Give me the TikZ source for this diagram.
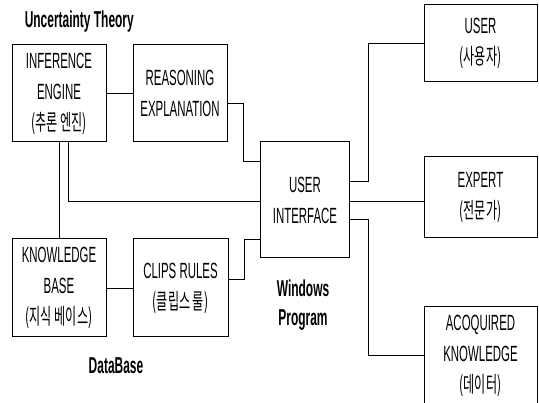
\documentclass[tikz,border=0pt]{standalone}
\usepackage{fontspec}
\setmainfont{Liberation Sans}[FakeStretch=0.52]
\newfontfamily\kr{Noto Sans CJK KR}[FakeStretch=0.55]
\usetikzlibrary{positioning,calc}
\newcommand{\krtxt}[1]{{\kr(#1)}}

\begin{document}
\begin{tikzpicture}[x=1pt, y=-1pt, box/.style={draw, line width=1pt, align=center, inner sep=0pt, minimum width=94pt, minimum height=97pt}, wide/.style={box, minimum width=113pt}, tag/.style={font=\fontsize{23}{29}\selectfont\bfseries, align=center}, every node/.style={font=\fontsize{22}{31}\selectfont}, on grid, line width=0.9pt]
  \useasboundingbox (0,0) rectangle (539,403);
  % Left column of boxes
  \node[box] (inf) at (59,93.5) {INFERENCE\\ENGINE\\\krtxt{추론 엔진}};
  \node[box] (reas) [right=121pt of inf] {REASONING\\EXPLANATION};
  \node[box, minimum height=98pt] (kb) [below=194.5pt of inf] {KNOWLEDGE\\BASE\\\krtxt{지식 베이스}};
  \node[box, minimum height=98pt, minimum width=95pt] (clips) [right=121.5pt of kb] {CLIPS RULES\\\krtxt{클립스 룰}};
  % Interface in the middle
  \node[box, minimum width=89pt, minimum height=116pt] (ui) at (305,200) {USER\\INTERFACE};
  % Right column of boxes
  \node[wide, minimum height=77pt] (user) at (480.5,43.5) {USER\\\krtxt{사용자}};
  \node[wide, minimum height=81pt] (expert) [below=154pt of user] {EXPERT\\\krtxt{전문가}};
  \node[wide] (acq) [below=158pt of expert] {ACOQUIRED\\KNOWLEDGE\\\krtxt{데이터}};

  % Captions
  \node[tag, anchor=west] (unc) at (21,22) {Uncertainty Theory};
  \node[tag] (db) at (116,366) {DataBase};
  \node[tag] (win) at (303,305) {Windows\\Program};

  % Connections
  \path[draw]
    (inf) edge (reas)
    (inf) edge (kb)
    (kb) edge (clips);
  \draw ([yshift=-9.5pt]reas.east) -- ++(16,0) |- ([yshift=39pt]ui.west);
  \draw ([xshift=9pt]inf.south) |- ([yshift=-1pt]ui.west);
  \draw ([yshift=9pt]clips.east) -- ++(15.5,0) |- ([yshift=-39pt]ui.west);
  \draw ([yshift=19pt]ui.east) -- ++(18,0) |- (user.west);
  \draw ([yshift=-1pt]ui.east) -- ([yshift=-1pt]ui.east -| expert.west);
  \draw ([yshift=-19pt]ui.east) -- ++(18,0) |- (acq.west);
\end{tikzpicture}
\end{document}
